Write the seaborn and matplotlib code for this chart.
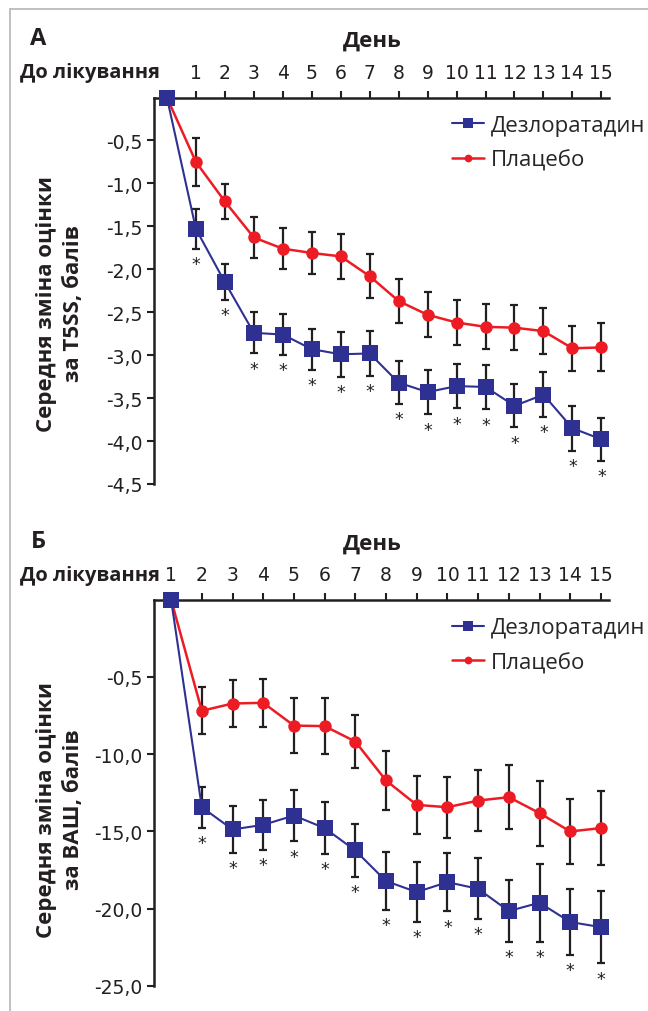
import numpy as np
import matplotlib
matplotlib.use("Agg")
import matplotlib.pyplot as plt
import seaborn as sns
from matplotlib.lines import Line2D

# ─── Data ─────────────────────────────────────────────────────────────────────
days_a = list(range(0, 16))
dez_a = [0, -1.53, -2.15, -2.74, -2.76, -2.93, -2.99, -2.98, -3.32, -3.43,
         -3.36, -3.37, -3.59, -3.46, -3.85, -3.98]
dez_a_err = [0, 0.23, 0.21, 0.24, 0.24, 0.24, 0.26, 0.26, 0.25, 0.26,
             0.26, 0.26, 0.25, 0.26, 0.26, 0.25]
plc_a = [0, -0.75, -1.21, -1.63, -1.76, -1.81, -1.85, -2.08, -2.37, -2.53,
         -2.62, -2.67, -2.68, -2.72, -2.92, -2.91]
plc_a_err = [0, 0.28, 0.20, 0.24, 0.24, 0.24, 0.26, 0.26, 0.26, 0.26,
             0.26, 0.26, 0.26, 0.27, 0.26, 0.28]
stars_a = list(range(1, 16))
yticks_a = [-0.5, -1.0, -1.5, -2.0, -2.5, -3.0, -3.5, -4.0, -4.5]
ylabels_a = ["-0,5", "-1,0", "-1,5", "-2,0", "-2,5", "-3,0", "-3,5", "-4,0", "-4,5"]

days_b = list(range(1, 16))
dez_b = [0, -13.43, -14.87, -14.57, -13.97, -14.78, -16.23, -18.21, -18.92,
         -18.28, -18.71, -20.15, -19.61, -20.86, -21.19]
dez_b_err = [0, 1.34, 1.53, 1.60, 1.67, 1.67, 1.69, 1.85, 1.94, 1.89,
             1.97, 1.99, 2.53, 2.12, 2.34]
plc_b = [0, -7.19, -6.72, -6.67, -8.15, -8.18, -9.18, -11.70, -13.28,
         -13.43, -13.00, -12.78, -13.81, -15.00, -14.78]
plc_b_err = [0, 1.52, 1.52, 1.56, 1.79, 1.79, 1.74, 1.90, 1.88, 1.96,
             1.97, 2.05, 2.10, 2.10, 2.42]
stars_b = list(range(2, 16))
yticks_b = [-5, -10, -15, -20, -25]
ylabels_b = ["-0,5", "-10,0", "-15,0", "-20,0", "-25,0"]

BLUE = "#2e3192"
RED = "#ed1c24"
DARK = "#231f20"

sns.set_style("ticks")
plt.rcParams["font.family"] = ["Liberation Sans Narrow", "DejaVu Sans"]
BOLD = ["Open Sans", "DejaVu Sans"]


def draw_panel(ax, x, dez, dez_err, plc, plc_err, stars, xlim, ylim, yticks, ylabels):
    ax.errorbar(x[1:], dez[1:], yerr=dez_err[1:], fmt="none", ecolor=DARK,
                elinewidth=1.6, capsize=3, capthick=1.6, zorder=2)
    ax.errorbar(x[1:], plc[1:], yerr=plc_err[1:], fmt="none", ecolor=DARK,
                elinewidth=1.6, capsize=3, capthick=1.6, zorder=2)
    sns.lineplot(x=x, y=plc, ax=ax, color=RED, lw=1.8, marker="o",
                 markersize=9, markeredgewidth=0, label="Плацебо", zorder=3,
                 clip_on=False)
    sns.lineplot(x=x, y=dez, ax=ax, color=BLUE, lw=1.5, marker="s",
                 markersize=11, markeredgewidth=0, label="Дезлоратадин", zorder=4,
                 clip_on=False)

    # significance marks under the desloratadine bars
    for d in stars:
        i = x.index(d)
        ax.annotate("*", (d, dez[i] - dez_err[i]), xytext=(0, -4.5),
                    textcoords="offset points", ha="center", va="top",
                    fontsize=12.5, color=DARK, family="DejaVu Sans")

    ax.set_xlim(*xlim)
    ax.set_ylim(*ylim)
    ax.xaxis.tick_top()
    ax.set_xticks(range(1, 16))
    ax.set_xticklabels([str(d) for d in range(1, 16)])
    ax.set_yticks(yticks)
    ax.set_yticklabels(ylabels)
    ax.tick_params(axis="x", direction="out", length=5, width=1.5, pad=6,
                   labelsize=13.5, colors=DARK)
    ax.tick_params(axis="y", direction="out", length=5, width=1.5, pad=3,
                   labelsize=13.5, colors=DARK)
    ax.set_xlabel("")
    ax.set_ylabel("")
    for side in ["right", "bottom"]:
        ax.spines[side].set_visible(False)
    for side in ["top", "left"]:
        ax.spines[side].set_linewidth(1.8)
        ax.spines[side].set_color(DARK)

    handles, labels = ax.get_legend_handles_labels()
    order = [labels.index("Дезлоратадин"), labels.index("Плацебо")]
    ax.legend([handles[k] for k in order], [labels[k] for k in order],
              loc="center left", bbox_to_anchor=(0.655, 0.882), frameon=False,
              borderpad=0, borderaxespad=0, handlelength=1.45, handletextpad=0.3,
              labelspacing=0.6, markerscale=0.62,
              prop={"family": ["Open Sans", "DejaVu Sans"], "size": 16})


W, H = 648, 1012
fig = plt.figure(figsize=(W / 100, H / 100), dpi=100)


def px_axes(left, top, right, bottom):
    return fig.add_axes([left / W, 1 - bottom / H, (right - left) / W, (bottom - top) / H])


ax_a = px_axes(153.6, 98.5, 608.6, 485)
draw_panel(ax_a, days_a, dez_a, dez_a_err, plc_a, plc_a_err, stars_a,
           (-0.46, 15.25), (-4.5, 0), yticks_a, ylabels_a)

ax_b = px_axes(153.6, 600.7, 608.6, 987)
draw_panel(ax_b, days_b, dez_b, dez_b_err, plc_b, plc_b_err, stars_b,
           (0.43, 15.25), (-25, 0), yticks_b, ylabels_b)

# ─── Text around the panels ──────────────────────────────────────────────────
def ftext(x, y, s, **kw):
    fig.text(x / W, 1 - y / H, s, **kw)


for y0, letter, ylab, yc in [(0, "А", "Середня зміна оцінки\nза T5SS, балів", 304),
                             (503, "Б", "Середня зміна оцінки\nза ВАШ, балів", 810)]:
    ftext(38, y0 + 39, letter, ha="center", va="center", fontsize=17,
          fontweight="bold", family=BOLD, color=DARK)
    ftext(372, y0 + 41, "День", ha="center", va="center", fontsize=16,
          fontweight="bold", family=BOLD, color=DARK)
    ftext(160, y0 + 73, "До лікування", ha="right", va="center", fontsize=14.5,
          fontweight="bold", family=BOLD, color=DARK)
    ftext(60, yc, ylab, ha="center", va="center", rotation=90, fontsize=16,
          fontweight="bold", family=BOLD, color=DARK, linespacing=1.35)

# thin grey frame
fig.add_artist(Line2D([10 / W, 10 / W], [0, 1 - 10 / H], color="#b5b5b5", lw=1.2))
fig.add_artist(Line2D([10 / W, 1], [1 - 10 / H, 1 - 10 / H], color="#b5b5b5", lw=1.2))

fig.savefig("out.png", dpi=100)
